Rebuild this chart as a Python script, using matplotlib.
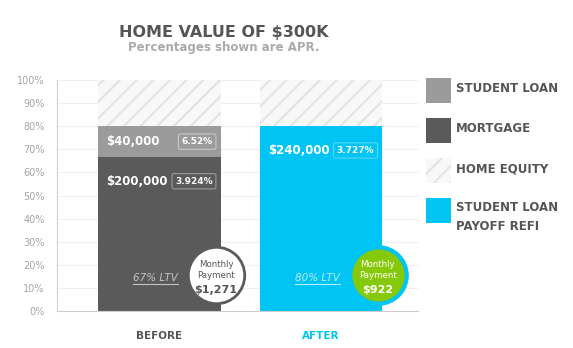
import matplotlib
matplotlib.use("Agg")
import matplotlib.pyplot as plt
from matplotlib.patches import Rectangle
from matplotlib.lines import Line2D

plt.rcParams['font.family'] = ['DejaVu Sans']
plt.rcParams['hatch.linewidth'] = 1.6

# ---- data ----
categories = ["BEFORE", "AFTER"]
home_value = 300000
student_loan = [40000, 0]
mortgage = [200000, 0]
payoff_refi = [0, 240000]
student_apr = ["6.52%", ""]
mortgage_apr = ["3.924%", ""]
refi_apr = ["", "3.727%"]
monthly_payment = ["$1,271", "$922"]
ltv = ["67% LTV", "80% LTV"]
y_ticks = [0, 10, 20, 30, 40, 50, 60, 70, 80, 90, 100]

# ---- colours ----
C_STUDENT = "#9b9b9b"
C_MORT = "#5a5a5a"
C_REFI = "#00c4f3"
C_GREEN = "#86c80a"
C_TEXT = "#555555"
C_EQ_FACE = "#f8f8f8"
C_EQ_HATCH = "#e4e4e4"

def pct(v):
    return v / home_value * 100.0

x = list(range(len(categories)))
mort_pct = [pct(v) for v in mortgage]
stud_pct = [pct(v) for v in student_loan]
refi_pct = [pct(v) for v in payoff_refi]
debt_pct = [m + s + r for m, s, r in zip(mort_pct, stud_pct, refi_pct)]
equity_pct = [100 - d for d in debt_pct]

fig = plt.figure(figsize=(5.73, 3.48), dpi=100)
ax = fig.add_axes([57 / 573, 1 - 311 / 348, (418 - 57) / 573, (311 - 80) / 348])

w = 0.76
ax.bar(x, mort_pct, w, color=C_MORT, linewidth=0, zorder=2)
ax.bar(x, stud_pct, w, bottom=mort_pct, color=C_STUDENT, linewidth=0, zorder=2)
ax.bar(x, refi_pct, w, color=C_REFI, linewidth=0, zorder=2)
ax.bar(x, equity_pct, w, bottom=debt_pct, color=C_EQ_FACE, edgecolor=C_EQ_HATCH,
       hatch="//", linewidth=0, zorder=2)

ax.set_xlim(-0.634, 1.6)
ax.set_ylim(0, 100)
ax.set_yticks(y_ticks)
ax.set_yticklabels([f"{t}%" for t in y_ticks], color="#a5a5a5", fontsize=7)
ax.tick_params(axis="y", length=0, pad=9)
ax.set_xticks([])
ax.grid(axis="y", color="#eeeeee", linewidth=0.8, zorder=0)
for s in ["top", "right"]:
    ax.spines[s].set_visible(False)
ax.spines["left"].set_color("#cccccc")
ax.spines["bottom"].set_color("#cccccc")
ax.spines["left"].set_linewidth(0.8)
ax.spines["bottom"].set_linewidth(0.8)

# category labels under bars
cat_colors = [C_TEXT, C_REFI]
for i, c in enumerate(categories):
    ax.text(i, -10.8, c, ha="center", va="center", fontsize=7.5,
            fontweight="bold", color=cat_colors[i])

def money(v):
    return f"${v:,.0f}"

def seg_label(xi, y, amount, apr, box_edge):
    ax.text(xi - w / 2 + 0.05, y, money(amount), ha="left", va="center",
            fontsize=8.5, fontweight="bold", color="white", zorder=4)
    ax.text(xi + w / 2 - 0.05, y, apr, ha="right", va="center", fontsize=6.5,
            fontweight="bold", color="white", zorder=4,
            bbox=dict(boxstyle="round,pad=0.35,rounding_size=0.2",
                      fc="none", ec=box_edge, lw=0.8))

for i in x:
    if student_loan[i]:
        seg_label(i, mort_pct[i] + stud_pct[i] / 2, student_loan[i],
                  student_apr[i], "#c8c8c8")
    if mortgage[i]:
        seg_label(i, mort_pct[i] - 10.5, mortgage[i], mortgage_apr[i], "#9a9a9a")
    if payoff_refi[i]:
        seg_label(i, refi_pct[i] - 10.5, payoff_refi[i], refi_apr[i], "#4fd8f7")

# loan-to-value labels
ltv_colors = ["#c4c4c4", "#b8ecfb"]
ltv_texts = []
for i in x:
    t = ax.text(i + 0.115, 14.3, ltv[i], ha="right", va="center", fontsize=7.5,
                style="italic", color=ltv_colors[i], zorder=4)
    ltv_texts.append(t)

# monthly payment badges
badge_face = ["white", C_GREEN]
badge_edge = [C_MORT, C_REFI]
badge_text = [C_TEXT, "white"]
for i in x:
    ax.scatter([i + 0.35], [15.6], s=1650, facecolor=badge_face[i],
               edgecolor=badge_edge[i], linewidth=2.0 if i == 0 else 3,
               zorder=5, clip_on=False)
    ax.text(i + 0.35, 20.3, "Monthly", ha="center", va="center",
            fontsize=6.2, color=badge_text[i], zorder=6)
    ax.text(i + 0.35, 15.3, "Payment", ha="center", va="center",
            fontsize=6.2, color=badge_text[i], zorder=6)
    ax.text(i + 0.35, 9.3, monthly_payment[i], ha="center", va="center",
            fontsize=8, fontweight="bold", color=badge_text[i], zorder=6)

# titles
fig.text(224 / 573, 1 - 32 / 348, "HOME VALUE OF $300K", ha="center", va="center",
         fontsize=11.5, fontweight="bold", color=C_TEXT)
fig.text(224 / 573, 1 - 48 / 348, "Percentages shown are APR.", ha="center",
         va="center", fontsize=8.5, fontweight="bold", color="#aaaaaa")

# legend
legend_items = [
    ("STUDENT LOAN", dict(fc=C_STUDENT)),
    ("MORTGAGE", dict(fc=C_MORT)),
    ("HOME EQUITY", dict(fc=C_EQ_FACE, ec=C_EQ_HATCH, hatch="//")),
    ("STUDENT LOAN\nPAYOFF REFI", dict(fc=C_REFI)),
]
for k, (label, style) in enumerate(legend_items):
    top = 78 + 40 * k
    fig.patches.append(Rectangle((426 / 573, 1 - (top + 25) / 348), 25 / 573,
                                 25 / 348, transform=fig.transFigure, lw=0, **style))
    if "\n" in label:
        fig.text(456 / 573, 1 - (top + 3) / 348, label, ha="left", va="top",
                 fontsize=8.5, fontweight="bold", color=C_TEXT, linespacing=1.55)
    else:
        fig.text(456 / 573, 1 - (top + 11) / 348, label, ha="left", va="center",
                 fontsize=8.5, fontweight="bold", color=C_TEXT)

# underline the loan-to-value labels
fig.canvas.draw()
r = fig.canvas.get_renderer()
inv = fig.transFigure.inverted()
for i, t in enumerate(ltv_texts):
    bb = t.get_window_extent(r)
    (x0, y0), (x1, _) = inv.transform([(bb.x0, bb.y0 - 1), (bb.x1, bb.y0 - 1)])
    fig.lines.append(Line2D([x0, x1], [y0, y0], transform=fig.transFigure,
                            color=ltv_colors[i], lw=0.8))

fig.savefig("out.png", dpi=100)
